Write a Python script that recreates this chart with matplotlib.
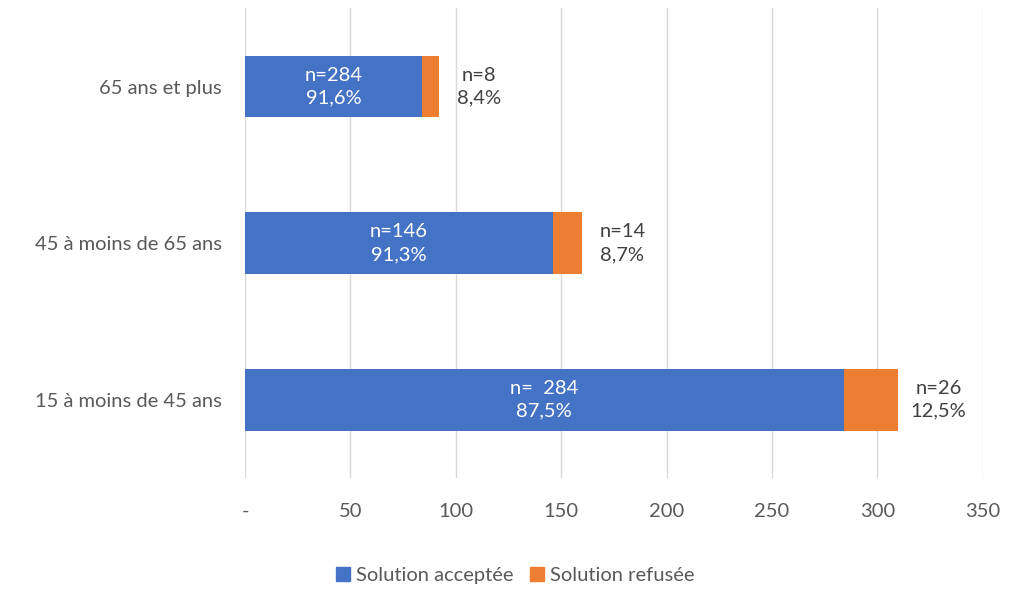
import matplotlib
matplotlib.use("Agg")
import matplotlib.pyplot as plt
from matplotlib.patches import Patch

plt.rcParams['font.family'] = ['Lato', 'DejaVu Sans']

categories = ["15 à moins de 45 ans", "45 à moins de 65 ans", "65 ans et plus"]
accepted = [284, 146, 84]
refused = [26, 14, 8]
accepted_labels = ["n=  284\n87,5%", "n=146\n91,3%", "n=284\n91,6%"]
refused_labels = ["n=26\n12,5%", "n=14\n8,7%", "n=8\n8,4%"]
xticks = [0, 50, 100, 150, 200, 250, 300, 350]
xticklabels = ["-", "50", "100", "150", "200", "250", "300", "350"]
series_names = ["Solution acceptée", "Solution refusée"]

blue = "#4472C4"
orange = "#ED7D31"
text_col = "#404040"
fs = 14.5

fig = plt.figure(figsize=(10.3, 5.9), dpi=100)
ax = fig.add_axes([0.238, 0.19, 0.716, 0.796])

y = list(range(len(categories)))
h = 0.395
ax.barh(y, accepted, height=h, color=blue, zorder=3)
ax.barh(y, refused, left=accepted, height=h, color=orange, zorder=3)

for i in y:
    ax.text(accepted[i] / 2, i, accepted_labels[i], ha='center', va='center',
            color='white', fontsize=fs, linespacing=1.4, zorder=4)
    ax.annotate(refused_labels[i], xy=(accepted[i] + refused[i], i),
                xytext=(40, 0), textcoords='offset pixels', ha='center',
                va='center', color=text_col, fontsize=fs, linespacing=1.4)

ax.set_xlim(0, 350)
ax.set_ylim(-0.5, 2.5)
ax.set_xticks(xticks)
ax.set_xticklabels(xticklabels, fontsize=fs, color="#595959")
ax.set_yticks(y)
ax.set_yticklabels(categories, fontsize=fs, color="#595959")
ax.tick_params(axis='both', length=0)
ax.tick_params(axis='x', pad=18)
ax.tick_params(axis='y', pad=17)
ax.grid(axis='x', color='#D9D9D9', linewidth=1, zorder=0)
for s in ax.spines.values():
    s.set_visible(False)

handles = [Patch(color=blue), Patch(color=orange)]
fig.legend(handles, series_names, loc='center', bbox_to_anchor=(0.5, 0.024),
           ncol=2, frameon=False, fontsize=fs, handlelength=0.7,
           handleheight=0.7, handletextpad=0.3, columnspacing=0.8,
           labelcolor="#595959")

fig.savefig("out.png", dpi=100)
